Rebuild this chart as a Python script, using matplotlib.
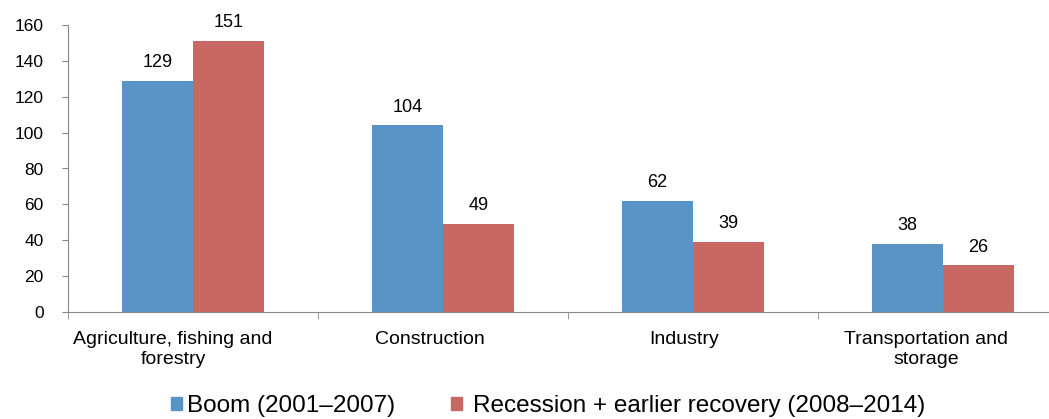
import numpy as np
import matplotlib
matplotlib.use('Agg')
import matplotlib.pyplot as plt
import matplotlib.transforms as mtransforms
from matplotlib.patches import Patch

plt.rcParams['font.family'] = ['Liberation Sans', 'DejaVu Sans']

categories = ['Agriculture, fishing and\nforestry', 'Construction', 'Industry', 'Transportation and\nstorage']
boom = [129, 104, 62, 38]
recession = [151, 49, 39, 26]
series_names = ['Boom (2001\u20132007)', 'Recession + earlier recovery (2008\u20132014)']
colors = ['#5a93c6', '#c96763']

fig = plt.figure(figsize=(10.49, 4.19), dpi=100)
ax = fig.add_axes([68/1049, 107/419, 1000/1049, 287/419])

x = np.arange(len(categories))
w = 0.284
b1 = ax.bar(x - w/2, boom, w, color=colors[0])
b2 = ax.bar(x + w/2, recession, w, color=colors[1])

# value labels above bars
for bars in (b1, b2):
    for r in bars:
        ax.annotate(f'{r.get_height():.0f}', (r.get_x() + r.get_width()/2, r.get_height()),
                    xytext=(0, 7), textcoords='offset points', ha='center', va='bottom', fontsize=13)

ax.set_xlim(-0.5, len(categories) - 0.5)
ax.set_ylim(0, 160)
ax.set_yticks(range(0, 161, 20))
ax.set_xticks(x)
ax.set_xticklabels(categories, fontsize=14, linespacing=1.22)
ax.set_xticks(np.arange(-0.5, len(categories), 1), minor=True)
ax.tick_params(axis='x', which='major', length=0, pad=13.5)
ax.tick_params(axis='x', which='minor', length=5, color='#888888', direction='out')
ax.tick_params(axis='y', labelsize=12.5, length=4.5, color='#888888', pad=13)

# the original's category labels sit a little left of the group centre
for lab, dx in zip(ax.get_xticklabels(), [-20, -13, -9, -17]):
    lab.set_transform(lab.get_transform() + mtransforms.ScaledTranslation(dx/100, 0, fig.dpi_scale_trans))

for s in ('top', 'right'):
    ax.spines[s].set_visible(False)
for s in ('left', 'bottom'):
    ax.spines[s].set_color('#888888')

# legend: two separate entries, like the original
for name, c, x0, gap in zip(series_names, colors, [171/1049, 451/1049], [0.2, 0.45]):
    fig.legend([Patch(color=c)], [name], loc='center left', bbox_to_anchor=(x0, 13/419),
               frameon=False, fontsize=17.5, handlelength=0.45, handleheight=0.45,
               handletextpad=gap, borderpad=0, borderaxespad=0)

fig.savefig('out.png', dpi=100)
